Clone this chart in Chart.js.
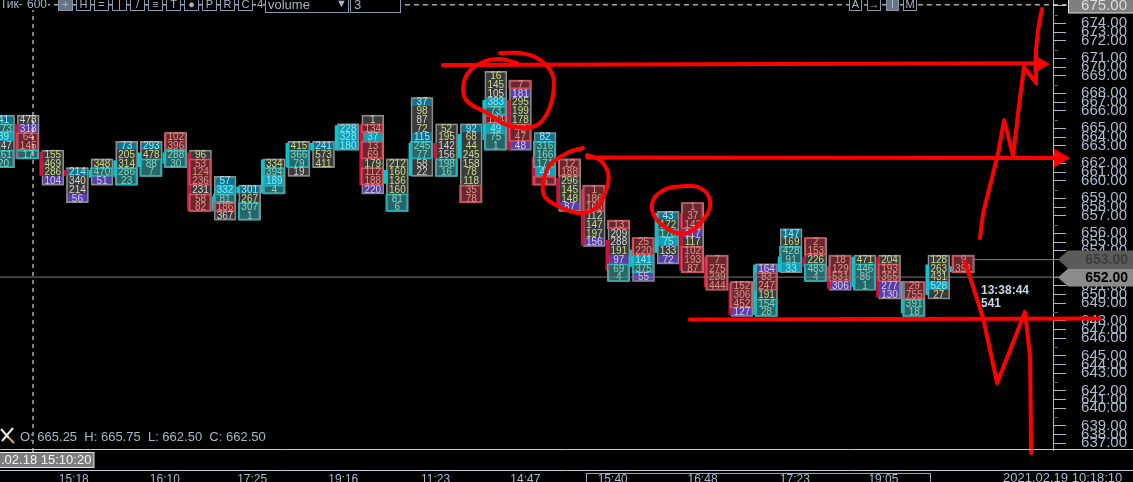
<!DOCTYPE html>
<html>
<head>
<meta charset="utf-8">
<style>
  html, body { margin: 0; padding: 0; background: #000; overflow: hidden; }
  #wrap { position: relative; width: 1133px; height: 482px; }
</style>
<script src="https://cdn.jsdelivr.net/npm/chart.js@4/dist/chart.umd.js"></script>
</head>
<body>
<div id="wrap"><canvas id="chart" width="1133" height="482"></canvas></div>
<script>
// price rows of the ladder, every row is 0.75 points
const rowStep = 0.75;
const topRowPrice = 675;
const rowCount = 51;

// labels on the price axis, one per row ('' = short tick with no label)
const priceLabels = ['', '', '674.00', '673.00', '672.00', '', '671.00', '670.00', '669.00', '',
  '668.00', '667.00', '666.00', '', '665.00', '664.00', '663.00', '', '662.00', '661.00',
  '660.00', '', '659.00', '658.00', '657.00', '', '656.00', '655.00', '654.00', '',
  '', '', '651.00', '650.00', '649.00', '', '648.00', '647.00', '646.00', '',
  '645.00', '644.00', '643.00', '', '642.00', '641.00', '640.00', '', '639.00', '638.00', '637.00'];

// time axis
const timeLabels = ['15:18', '16:10', '17:25', '19:16', '11:23', '14:47', '15:40', '16:48', '17:23', '19:05'];
const timePositions = [2.85, 6.55, 10.1, 13.8, 17.55, 21.2, 24.75, 28.4, 32.15, 35.75];

// top row price of every candle
const candleTops = [665.25, 665.25, 662.25, 660.75, 661.5, 663, 663, 663.75, 662.25, 660, 659.25, 661.5, 663, 663,
  664.5, 665.25, 661.5, 666.75, 664.5, 664.5, 669, 668.25, 663.75, 661.5, 659.25, 656.25, 654.75, 657, 657.75,
  653.25, 651, 652.5, 655.5, 654.75, 653.25, 653.25, 653.25, 651, 653.25, 653.25];

// volume printed in each row of each candle, top to bottom
const candleVolumes = [
  [41, 273, 89, 247, 161, 20], [478, 318, 64, 145, 17], [155, 469, 286, 104], [214, 340, 214, 56],
  [348, 470, 51], [73, 205, 314, 286, 23], [293, 478, 88, 7], [102, 396, 288, 30],
  [96, 53, 124, 236, 231, 58, 82], [57, 332, 81, 186, 367], [301, 267, 307, 1], [334, 394, 189, 4],
  [415, 366, 79, 19], [241, 573, 411], [228, 328, 180], [1, 134, 37, 13, 69, 179, 112, 188, 220],
  [212, 160, 136, 160, 81, 6], [37, 98, 87, 72, 115, 245, 77, 58, 22], [52, 195, 142, 156, 198, 16],
  [92, 68, 44, 245, 158, 78, 118, 35, 78], [16, 145, 105, 383, 73, 124, 49, 75, 1],
  [7, 181, 295, 199, 178, 48, 47, 48], [82, 316, 166, 171, 48, 5], [12, 188, 296, 145, 148, 87],
  [1, 186, 165, 112, 147, 197, 156], [13, 209, 288, 191, 97, 69, 4], [25, 220, 141, 375, 55],
  [43, 172, 178, 75, 133, 72], [1, 37, 143, 117, 117, 102, 193, 87], [7, 275, 239, 444], [152, 306, 452, 127],
  [164, 83, 247, 191, 154, 28], [147, 169, 428, 91, 33], [2, 153, 226, 483, 4], [18, 129, 531, 306],
  [471, 446, 86, 1], [204, 193, 365, 277, 130], [29, 755, 391, 18], [128, 263, 431, 528, 27], [9, 391]
];

// row kind: g/w plain, b blue, p purple, c cyan, t teal box, r red box
const candleKinds = ['btcwtt', 'wprrt', 'gggp', 'bwwp', 'gtp', 'bggtt', 'bgtt', 'rrtt', 'grrrwrr', 'bctrw', 'bgtt',
  'gtct', 'gttw', 'bgg', 'ccc', 'grcrrgrrp', 'ggggtt', 'bgwgbttww', 'ggwwtt', 'bggggggrr', 'ggwctrctt', 'rpgggrrp',
  'btttcr', 'rrgggp', 'rrrwggp', 'rwwgptt', 'rrctp', 'bgtcwp', 'rrrpgrrr', 'rrrr', 'rrrp', 'prrgtt', 'bgttc', 'rrgtt',
  'rrrp', 'gttt', 'grrpp', 'rrtt', 'gggcg', 'rr'];

// open/close body at the left of each candle
const bodyHigh = [664.5, 664.88, 662.48, 660.9, 660.9, 661.73, 662.4, 662.4, 662.4, 658.65, 659.48, 661.8, 663.23, 663.23,
  664.73, 664.8, 660.9, 663.23, 663.23, 663.98, 666.9, 666.9, 662.03, 660.23, 659.25, 654.9, 654.08, 657.23, 657.23,
  653.48, 651.23, 652.8, 653.48, 653.48, 652.65, 653.48, 653.48, 651.38, 652.8, 652.65];
const bodyLow = [662.25, 661.88, 660.45, 660.45, 660.3, 660.38, 661.2, 661.5, 657.45, 657.45, 658.95, 658.95, 661.2, 662.63,
  662.63, 659.63, 659.78, 660.45, 661.95, 661.95, 663.53, 662.63, 659.63, 657.75, 654.45, 652.35, 652.65, 653.85, 652.35,
  650.93, 648.53, 648.53, 652.2, 652.65, 650.78, 650.93, 650.03, 648.68, 650.25, 652.2];
const bodyUp = [1, 0, 0, 0, 1, 1, 1, 1, 0, 1, 1, 1, 1, 1, 1, 0, 1, 1, 0, 1, 1, 0, 0, 0, 0, 0, 1, 1, 0, 0, 0, 1, 1, 0, 0, 1, 0, 1, 1, 1];

// hand drawn marks, in candle index / price units
const strokeLevelTop = [[17.85, 669.93], [41.91, 670.08]];
const strokeLevelMid = [[23.71, 662.0], [42.84, 661.95]];
const strokeLevelLow = [[27.89, 648.11], [44.55, 648.2]];
const strokeUp = [[39.67, 655.1], [39.8, 657.24], [40.41, 662.38], [40.65, 665.21], [41.02, 662.13], [41.22, 665.81],
  [41.46, 669.75], [41.95, 668.38], [41.95, 671.21], [42.03, 672.93], [42.19, 674.73]];
const strokeDown = [[39.07, 653.04], [39.8, 648.24], [40.37, 642.67], [41.5, 648.76], [41.71, 644.9], [41.75, 636.67]];
const circleA = [[20.17, 670.95], [20.98, 670.95], [21.67, 670.53], [22.2, 669.5], [22.36, 668.38], [22.2, 666.33],
  [21.79, 664.95], [21.27, 664.53], [20.45, 664.78], [19.64, 665.81], [18.87, 666.75], [18.67, 667.78], [18.87, 669.24],
  [19.48, 670.18], [20.17, 670.44], [20.86, 670.1]];
const circleB = [[23.54, 662.81], [22.89, 662.38], [22.2, 661.35], [21.92, 659.81], [22, 658.61], [22.61, 657.75],
  [23.42, 657.24], [24.11, 657.75], [24.52, 659.47], [24.56, 660.67], [24.23, 661.78], [23.71, 662.21]];
const circleC = [[27.69, 659.56], [28.22, 659.47], [28.62, 658.78], [28.7, 657.75], [28.42, 656.64], [27.89, 655.61],
  [27.36, 655.53], [26.67, 656.38], [26.35, 657.5], [26.47, 658.61], [27, 659.38], [27.69, 659.56]];
const arrowTips = [[42.07, 670.01], [42.9, 661.95], [44.63, 648.2]];

// horizontal price lines and crosshair
const lastPriceLine = [[-0.15, 651.75], [42.9, 651.75]];
const bidPriceLine = [[39.4, 653.25], [42.9, 653.25]];
const crossV = [[1.195, 675.5], [1.195, 636.6]];
const crossH = [[-0.15, 675.08], [43.2, 675.08]];

const cellFill = { g: '#3b3b3b', w: '#3b3b3b', b: '#0b7493', p: '#5a40a6', c: '#0f9fb8', t: '#27676a', r: '#6e262e' };
const textFill = { g: '#c6dc8c', w: '#d4d4d4', b: '#a6e6ee', p: '#d2caf0', c: '#8be6ee', t: '#83d4bd', r: '#dd9488' };
const axisColor = '#aeb9d0';

const pts = list => list.map(p => ({ x: p[0], y: p[1] }));

// flatten rows for the bar datasets
const cells = [];
const boxes = [];
candleVolumes.forEach((vols, i) => {
  const kinds = candleKinds[i];
  vols.forEach((v, r) => {
    const mid = candleTops[i] - r * rowStep;
    cells.push({ x: i, y: [mid - rowStep / 2, mid + rowStep / 2], v: v, kind: kinds[r] });
    // contiguous t or r rows get one outline
    if ((kinds[r] === 't' || kinds[r] === 'r') && kinds[r - 1] !== kinds[r]) {
      let end = r;
      while (kinds[end + 1] === kinds[r]) end++;
      boxes.push({ x: i - 0.03, y: [candleTops[i] - end * rowStep - rowStep / 2, mid + rowStep / 2], kind: kinds[r] });
    }
  });
});
const outlines = candleVolumes.map((vols, i) => ({
  x: i, y: [candleTops[i] - (vols.length - 1) * rowStep - rowStep / 2, candleTops[i] + rowStep / 2]
}));
const bodies = bodyHigh.map((h, i) => ({ x: i - 0.47, y: [bodyLow[i], h], up: bodyUp[i] }));

const redLine = (list, extra) => Object.assign({
  type: 'line', data: pts(list), borderColor: '#ff0000', borderWidth: 4, pointRadius: 0,
  tension: 0, clip: false, fill: false, order: 1, borderCapStyle: 'round', borderJoinStyle: 'round'
}, extra || {});

const datasets = [
  { type: 'bar', data: cells, barThickness: 21, grouped: false, order: 9, backgroundColor: ctx => cellFill[ctx.raw.kind],
    borderWidth: 0 },
  { type: 'bar', data: outlines, barThickness: 22, grouped: false, order: 8.5, backgroundColor: 'transparent',
    borderColor: '#8c8c8c', borderWidth: 1, borderSkipped: false },
  { type: 'bar', data: bodies, barThickness: 3, grouped: false, order: 8,
    backgroundColor: ctx => ctx.raw.up ? '#12c4d0' : '#c8153c', borderWidth: 0 },
  { type: 'bar', data: boxes, barThickness: 22, grouped: false, order: 7, backgroundColor: 'transparent',
    borderColor: ctx => ctx.raw.kind === 't' ? '#21b3b8' : '#c9525c', borderWidth: 1, borderSkipped: false },
  { type: 'line', data: pts(lastPriceLine), borderColor: '#7d7d7d', borderWidth: 1, pointRadius: 0, clip: false, order: 5 },
  { type: 'line', data: pts(bidPriceLine), borderColor: '#7d7d7d', borderWidth: 1, pointRadius: 0, clip: false, order: 5 },
  { type: 'line', data: pts(crossV), borderColor: '#ffffff', borderWidth: 1, borderDash: [4, 4], pointRadius: 0, clip: false, order: 4 },
  { type: 'line', data: pts(crossH), borderColor: '#ffffff', borderWidth: 1, borderDash: [5, 4], pointRadius: 0, clip: false, order: 4 },
  redLine(strokeLevelTop), redLine(strokeLevelMid), redLine(strokeLevelLow),
  redLine(strokeUp), redLine(strokeDown),
  redLine(circleA, { tension: 0.35 }), redLine(circleB, { tension: 0.35 }), redLine(circleC, { tension: 0.35 }),
  { type: 'line', data: pts(arrowTips), showLine: false, pointStyle: 'triangle', pointRotation: 90, pointRadius: 10,
    pointBackgroundColor: '#ff0000', pointBorderColor: '#ff0000', clip: false, order: 1 }
];

// numbers inside the cells, painted right after the outline boxes so the marks stay on top
const cellText = {
  id: 'cellText',
  afterDatasetDraw(chart, args) {
    if (args.index !== 3) return;
    const c = chart.ctx, xs = chart.scales.x, ys = chart.scales.y;
    c.save();
    c.font = '10px "Liberation Sans Narrow", "Liberation Sans", sans-serif';
    c.textAlign = 'center';
    c.textBaseline = 'middle';
    cells.forEach(cell => {
      c.fillStyle = textFill[cell.kind];
      c.fillText(cell.v, xs.getPixelForValue(cell.x), ys.getPixelForValue((cell.y[0] + cell.y[1]) / 2) + 0.5);
    });
    c.restore();
  }
};

function priceTag(c, y, fill, color, text) {
  c.fillStyle = fill;
  c.beginPath();
  c.moveTo(1058, y);
  c.lineTo(1068, y - 9);
  c.lineTo(1133, y - 9);
  c.lineTo(1133, y + 9);
  c.lineTo(1068, y + 9);
  c.closePath();
  c.fill();
  c.fillStyle = color;
  c.font = 'bold 14px "Liberation Sans", sans-serif';
  c.textAlign = 'right';
  c.fillText(text, 1128, y + 0.5);
}

function toolButton(c, x, w, filled, label) {
  c.fillStyle = filled ? '#6a7488' : '#000';
  c.fillRect(x, 0, w, 10.5);
  c.strokeStyle = '#8c98ac';
  c.lineWidth = 1;
  c.strokeRect(x + 0.5, -1, w - 1, 11.5);
  c.fillStyle = '#aab4c6';
  c.textAlign = 'center';
  c.fillText(label, x + w / 2, 4.5);
}

// chart furniture: frame lines, tags, toolbar, status texts
const chrome = {
  id: 'chrome',
  afterDraw(chart) {
    const c = chart.ctx, ys = chart.scales.y;
    c.save();
    c.strokeStyle = '#c3cbda';
    c.lineWidth = 1;
    c.beginPath();
    c.moveTo(0, 449.5); c.lineTo(1133, 449.5);
    c.moveTo(0, 470.5); c.lineTo(1133, 470.5);
    c.stroke();
    c.strokeStyle = '#9aa6ba';
    c.strokeRect(586.5, 473.5, 344, 12);

    // short dim ticks on the price axis
    c.strokeStyle = '#5c6068';
    priceLabels.forEach((t, k) => {
      if (t || k === 0 || k === 29 || k === 30 || k === 31) return;
      const y = Math.round(ys.getPixelForValue(topRowPrice - k * rowStep)) + 0.5;
      c.beginPath(); c.moveTo(1053, y); c.lineTo(1058, y); c.stroke();
    });

    c.textBaseline = 'middle';
    // top price box
    c.fillStyle = '#7f7f7f';
    c.fillRect(1068, 0, 65, 13);
    c.strokeStyle = '#e0e0e0';
    c.strokeRect(1068.5, -1, 66, 14);
    c.fillStyle = '#dcdcdc';
    c.font = '15px "Liberation Sans Narrow", "Liberation Sans", sans-serif';
    c.textAlign = 'right';
    c.fillText('675.00', 1127, 6);

    priceTag(c, 259.5, '#5b5b5b', '#3c3c3c', '653.00');
    priceTag(c, 277.5, '#8b8b8b', '#000000', '652.00');

    // clock and last volume
    c.fillStyle = '#c8d6e6';
    c.font = 'bold 12px "Liberation Sans", sans-serif';
    c.textAlign = 'left';
    c.fillText('13:38:44', 981, 291);
    c.fillText('541', 981, 303.5);

    // bottom left status
    c.fillStyle = '#aab4c2';
    c.font = '13px "Liberation Sans", sans-serif';
    c.fillText('O: 665.25  H: 665.75  L: 662.50  C: 662.50', 20, 437.5);
    c.lineWidth = 2;
    c.strokeStyle = '#e8e8e8';
    c.beginPath(); c.moveTo(1, 429); c.lineTo(9, 438); c.moveTo(13, 428); c.lineTo(2, 441); c.stroke();
    c.strokeStyle = '#e0b830';
    c.beginPath(); c.moveTo(9, 438); c.lineTo(14, 443); c.stroke();

    // date box under the crosshair
    c.lineWidth = 1;
    c.fillStyle = '#7c7c7c';
    c.fillRect(0, 452, 94, 15);
    c.strokeStyle = '#e6e6e6';
    c.strokeRect(-1, 452.5, 95, 15);
    c.fillStyle = '#f4f4f4';
    c.font = '13px "Liberation Sans", sans-serif';
    c.textAlign = 'left';
    c.fillText('.02.18 15:10:20', 1, 460.5);

    // right end of the time axis
    c.fillStyle = axisColor;
    c.fillText('2021.02.19 10:18:10', 1003, 478);

    // toolbar, cut off by the top of the window
    c.font = '12px "Liberation Sans", sans-serif';
    c.textAlign = 'left';
    c.fillStyle = '#000';
    c.fillRect(0, 0, 25, 10);
    c.fillRect(27, 0, 21, 10);
    c.fillStyle = '#aab4c6';
    c.fillText('Тик-', 0, 4.5);
    c.fillText('600', 27, 4.5);
    c.font = '11px "Liberation Sans", sans-serif';
    const btnX = [58, 76, 94, 112, 130, 148, 166, 184, 202, 220, 238];
    const btnT = ['+', 'H', '=', '|', '/', '≡', 'T', '●', 'P', 'R', 'C'];
    btnX.forEach((x, i) => toolButton(c, x, 15, i === 0, btnT[i]));
    c.textAlign = 'left';
    c.fillStyle = '#000'; c.fillRect(256, 0, 7, 10);
    c.fillStyle = '#aab4c6'; c.fillText('4', 257, 4.5);
    c.strokeStyle = '#8c98ac';
    c.fillStyle = '#000'; c.fillRect(266, 0, 82, 12); c.fillRect(351, 0, 49, 12);
    c.strokeRect(265.5, -1, 83, 13.5);
    c.strokeRect(350.5, -1, 50, 13.5);
    c.fillStyle = '#aab4c6';
    c.font = '13px "Liberation Sans", sans-serif';
    c.fillText('volume', 268, 5);
    c.fillText('3', 354, 5);
    c.font = '11px "Liberation Sans", sans-serif';
    c.fillText('▼', 336, 4);
    toolButton(c, 849, 13, false, 'A');
    toolButton(c, 867, 14, false, '→');
    toolButton(c, 886, 13, true, 'I');
    toolButton(c, 903, 14, false, 'M');
    c.restore();
  }
};

new Chart(document.getElementById('chart'), {
  data: { datasets: datasets },
  plugins: [cellText, chrome],
  options: {
    responsive: false,
    animation: false,
    events: [],
    layout: { autoPadding: false, padding: { left: 0, top: 0, right: 6, bottom: 0 } },
    plugins: { legend: { display: false }, tooltip: { enabled: false } },
    scales: {
      x: {
        type: 'linear',
        min: -0.146,
        max: 42.64,
        offset: false,
        grid: { display: false, drawTicks: false },
        border: { display: false },
        afterBuildTicks: scale => { scale.ticks = timePositions.map(v => ({ value: v })); },
        afterFit: scale => {
          scale.height = 32;
          scale.paddingLeft = 0; scale.paddingRight = 0;
        },
        ticks: {
          autoSkip: false,
          maxRotation: 0,
          padding: 22,
          color: axisColor,
          font: { family: '"Liberation Sans", sans-serif', size: 12 },
          callback: (v, i) => timeLabels[i]
        }
      },
      y: {
        type: 'linear',
        position: 'right',
        min: 636.93,
        max: 675.497,
        grid: {
          drawOnChartArea: false,
          tickLength: 13,
          tickColor: ctx => priceLabels[ctx.index] || [0, 29, 31].includes(ctx.index) ? axisColor : 'transparent'
        },
        border: { display: true, color: axisColor },
        afterBuildTicks: scale => {
          const rows = [];
          for (let k = 0; k < rowCount; k++) rows.push({ value: topRowPrice - k * rowStep });
          scale.ticks = rows;
        },
        afterFit: scale => {
          scale.width = 74;
          scale.paddingTop = 0; scale.paddingBottom = 0;
        },
        ticks: {
          autoSkip: false,
          crossAlign: 'far',
          color: axisColor,
          font: { family: '"Liberation Sans Narrow", "Liberation Sans", sans-serif', size: 15 },
          callback: (v, i) => priceLabels[i]
        }
      }
    }
  }
});
</script>
</body>
</html>
